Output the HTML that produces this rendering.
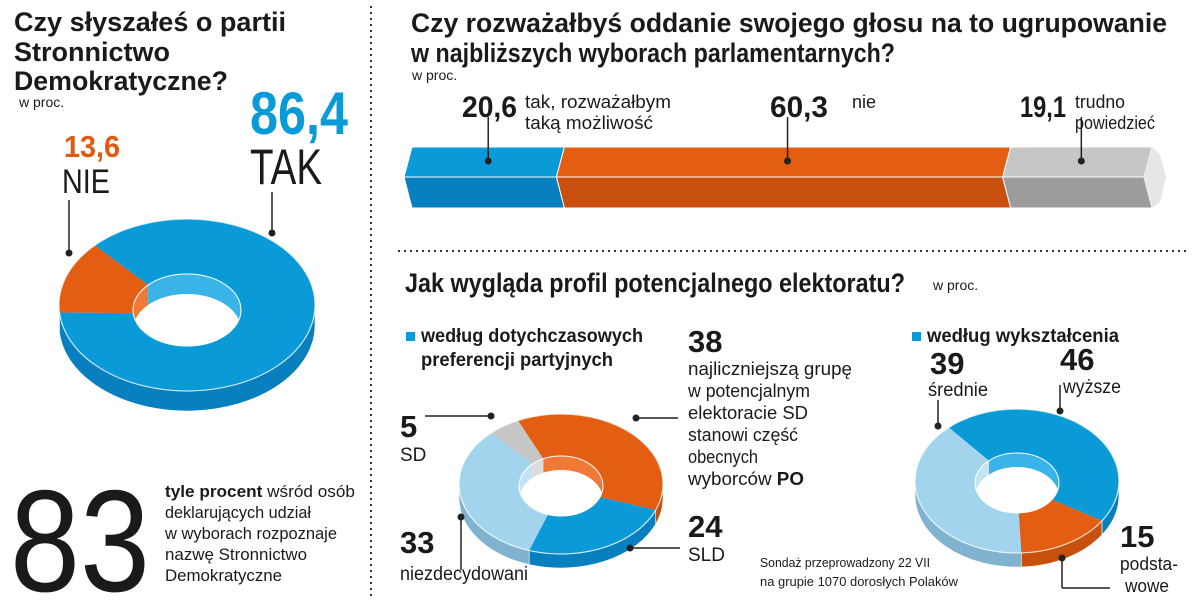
<!DOCTYPE html>
<html><head><meta charset="utf-8">
<style>
body{margin:0;background:#fff;}
svg{display:block;}
text{font-family:"Liberation Sans Narrow","Liberation Sans",sans-serif;fill:#1a1a1a;}
.b{font-weight:bold;}
</style></head>
<body>
<svg id="chart" width="1200" height="602" viewBox="0 0 1200 602">
<line x1="371" y1="6" x2="371" y2="600" stroke="#333" stroke-width="2" stroke-dasharray="2,4"/>
<line x1="398" y1="251" x2="1190" y2="251" stroke="#333" stroke-width="2" stroke-dasharray="2,4"/>

<g>
<text x="14" y="31" font-size="27" class="b" textLength="272" lengthAdjust="spacingAndGlyphs">Czy słyszałeś o partii</text>
<text x="14" y="61" font-size="27" class="b" textLength="156" lengthAdjust="spacingAndGlyphs">Stronnictwo</text>
<text x="14" y="90" font-size="27" class="b" textLength="214" lengthAdjust="spacingAndGlyphs">Demokratyczne?</text>
</g>
<text x="19" y="107" font-size="14">w proc.</text>
<text x="64" y="157" font-size="31" class="b" style="fill:#e05a12" textLength="56" lengthAdjust="spacingAndGlyphs">13,6</text>
<text x="62" y="193" font-size="34" textLength="48" lengthAdjust="spacingAndGlyphs">NIE</text>
<text x="250" y="134" font-size="60" class="b" style="fill:#0a9ad8" textLength="98" lengthAdjust="spacingAndGlyphs">86,4</text>
<text x="250" y="184" font-size="50" textLength="72" lengthAdjust="spacingAndGlyphs">TAK</text>
<line x1="69" y1="200" x2="69" y2="252" stroke="#222" stroke-width="1.5"/><circle cx="69" cy="253" r="3.5" fill="#222"/>
<line x1="272" y1="192" x2="272" y2="232" stroke="#222" stroke-width="1.5"/>

<g id="donut1"></g>
<circle cx="272" cy="233" r="3.5" fill="#222"/>

<text x="10" y="591" font-size="145" textLength="140" lengthAdjust="spacingAndGlyphs">83</text>
<g font-size="17">
<text x="165" y="497" textLength="190" lengthAdjust="spacingAndGlyphs"><tspan class="b">tyle procent</tspan> wśród osób</text>
<text x="165" y="518" textLength="146" lengthAdjust="spacingAndGlyphs">deklarujących udział</text>
<text x="165" y="539" textLength="172" lengthAdjust="spacingAndGlyphs">w wyborach rozpoznaje</text>
<text x="165" y="560" textLength="142" lengthAdjust="spacingAndGlyphs">nazwę Stronnictwo</text>
<text x="165" y="581" textLength="117" lengthAdjust="spacingAndGlyphs">Demokratyczne</text>
</g>

<g>
<text x="411" y="32" font-size="27" class="b" textLength="756" lengthAdjust="spacingAndGlyphs">Czy rozważałbyś oddanie swojego głosu na to ugrupowanie</text>
<text x="411" y="62" font-size="27" class="b" textLength="484" lengthAdjust="spacingAndGlyphs">w najbliższych wyborach parlamentarnych?</text>
</g>
<text x="412" y="80" font-size="14">w proc.</text>
<g id="bar"></g>
<g>
<text x="462" y="117" font-size="30" class="b" textLength="55" lengthAdjust="spacingAndGlyphs">20,6</text>
<text x="525" y="108" font-size="18" textLength="146" lengthAdjust="spacingAndGlyphs">tak, rozważałbym</text>
<text x="525" y="129" font-size="18" textLength="128" lengthAdjust="spacingAndGlyphs">taką możliwość</text>
<text x="770" y="117" font-size="30" class="b" textLength="58" lengthAdjust="spacingAndGlyphs">60,3</text>
<text x="852" y="108" font-size="18">nie</text>
<text x="1020" y="117" font-size="30" class="b" textLength="46" lengthAdjust="spacingAndGlyphs">19,1</text>
<text x="1075" y="108" font-size="18" textLength="50" lengthAdjust="spacingAndGlyphs">trudno</text>
<text x="1075" y="129" font-size="18" textLength="80" lengthAdjust="spacingAndGlyphs">powiedzieć</text>
</g>

<text x="405" y="292" font-size="27" class="b" textLength="500" lengthAdjust="spacingAndGlyphs">Jak wygląda profil potencjalnego elektoratu?</text>
<text x="933" y="290" font-size="14">w proc.</text>
<rect x="406" y="332" width="9" height="9" fill="#0a9ad8"/>
<text x="421" y="342" font-size="19" class="b" textLength="222" lengthAdjust="spacingAndGlyphs">według dotychczasowych</text>
<text x="421" y="366" font-size="19" class="b" textLength="192" lengthAdjust="spacingAndGlyphs">preferencji partyjnych</text>
<rect x="912" y="332" width="9" height="9" fill="#0a9ad8"/>
<text x="927" y="342" font-size="19" class="b" textLength="192" lengthAdjust="spacingAndGlyphs">według wykształcenia</text>

<g id="donut2"></g>
<g id="donut3"></g>

<g>
<text x="688" y="352" font-size="31" class="b">38</text>
<g font-size="18">
<text x="688" y="375" textLength="164" lengthAdjust="spacingAndGlyphs">najliczniejszą grupę</text>
<text x="688" y="397" textLength="122" lengthAdjust="spacingAndGlyphs">w potencjalnym</text>
<text x="688" y="419" textLength="120" lengthAdjust="spacingAndGlyphs">elektoracie SD</text>
<text x="688" y="441" textLength="110" lengthAdjust="spacingAndGlyphs">stanowi część</text>
<text x="688" y="463" textLength="70" lengthAdjust="spacingAndGlyphs">obecnych</text>
<text x="688" y="485" textLength="116" lengthAdjust="spacingAndGlyphs">wyborców <tspan class="b">PO</tspan></text>
</g>
<text x="400" y="437" font-size="31" class="b">5</text>
<text x="400" y="461" font-size="19">SD</text>
<text x="400" y="553" font-size="31" class="b">33</text>
<text x="400" y="580" font-size="19" textLength="128" lengthAdjust="spacingAndGlyphs">niezdecydowani</text>
<text x="688" y="537" font-size="31" class="b">24</text>
<text x="688" y="561" font-size="19">SLD</text>
<line x1="425" y1="416" x2="490" y2="416" stroke="#222" stroke-width="1.5"/><circle cx="491" cy="416" r="3.5" fill="#222"/>
<line x1="636" y1="418" x2="678" y2="418" stroke="#222" stroke-width="1.5"/><circle cx="636" cy="418" r="3.5" fill="#222"/>
<line x1="461" y1="518" x2="461" y2="570" stroke="#222" stroke-width="1.5"/><circle cx="461" cy="517" r="3.5" fill="#222"/>
<line x1="630" y1="548" x2="680" y2="548" stroke="#222" stroke-width="1.5"/><circle cx="630" cy="548" r="3.5" fill="#222"/>
</g>
<g>
<text x="930" y="374" font-size="31" class="b">39</text>
<text x="928" y="396" font-size="19" textLength="60" lengthAdjust="spacingAndGlyphs">średnie</text>
<text x="1060" y="370" font-size="31" class="b">46</text>
<text x="1063" y="393" font-size="19" textLength="58" lengthAdjust="spacingAndGlyphs">wyższe</text>
<text x="1120" y="547" font-size="31" class="b">15</text>
<text x="1120" y="570" font-size="18" textLength="58" lengthAdjust="spacingAndGlyphs">podsta-</text>
<text x="1125" y="592" font-size="18" textLength="44" lengthAdjust="spacingAndGlyphs">wowe</text>
<line x1="938" y1="400" x2="938" y2="425" stroke="#222" stroke-width="1.5"/><circle cx="938" cy="426" r="3.5" fill="#222"/>
<line x1="1060" y1="385" x2="1060" y2="410" stroke="#222" stroke-width="1.5"/><circle cx="1060" cy="411" r="3.5" fill="#222"/>
<line x1="1062" y1="560" x2="1062" y2="588" stroke="#222" stroke-width="1.5"/><line x1="1062" y1="588" x2="1110" y2="588" stroke="#222" stroke-width="1.5"/><circle cx="1062" cy="558" r="3.5" fill="#222"/>
</g>
<g font-size="13">
<text x="760" y="567" textLength="170" lengthAdjust="spacingAndGlyphs">Sondaż przeprowadzony 22 VII</text>
<text x="760" y="586" textLength="198" lengthAdjust="spacingAndGlyphs">na grupie 1070 dorosłych Polaków</text>
</g>
</svg>
<script>
// ---- data ----
const awarenessLabels = ["NIE", "TAK"];
const awarenessValues = [13.6, 86.4];
const barLabels = ["tak", "nie", "trudno powiedzieć"];
const barValues = [20.6, 60.3, 19.1];
const partyLabels = ["PO", "SLD", "niezdecydowani", "SD"];
const partyValues = [38, 24, 33, 5];
const eduLabels = ["wyższe", "podstawowe", "średnie"];
const eduValues = [46, 15, 39];

const NS = "http://www.w3.org/2000/svg";
const C = {
  blue: ["#0a9ad8", "#0880bf", "#39b4e8"],
  orange: ["#e35d12", "#c84f0e", "#f07a35"],
  grey: ["#c6c6c6", "#9c9c9c", "#dcdcdc"],
  light: ["#a2d4ee", "#7fb3cf", "#c4e4f5"]
};
function mk(tag, attrs, parent) {
  const e = document.createElementNS(NS, tag);
  for (const k in attrs) e.setAttribute(k, attrs[k]);
  parent.appendChild(e);
  return e;
}
function rangesIntersect(a0, a1, lo, hi) {
  const out = [];
  for (const off of [-360, 0, 360]) {
    const s = Math.max(a0, lo + off), e = Math.min(a1, hi + off);
    if (e > s) out.push([s, e]);
  }
  return out;
}
let clipId = 0;
function drawDonut(g, cx, cy, rx, ry, irx, iry, hdy, depth, start, values, colors, names) {
  const total = values.reduce((a, b) => a + b, 0);
  const hy = cy + hdy;
  const P = (a, Rx, Ry, y0) => {
    const r = a * Math.PI / 180;
    return [cx + Rx * Math.sin(r), y0 - Ry * Math.cos(r)];
  };
  const slices = [];
  let a = start;
  values.forEach((v, i) => {
    const span = v / total * 360;
    slices.push([a, a + span, colors[i], names[i]]);
    a += span;
  });
  slices.forEach(([a0, a1, col, nm]) => {
    rangesIntersect(a0, a1, 90, 270).forEach(([b0, b1]) => {
      const p0 = P(b0, rx, ry, cy), p1 = P(b1, rx, ry, cy);
      const q0 = P(b0, rx, ry, cy + depth), q1 = P(b1, rx, ry, cy + depth);
      const large = (b1 - b0) > 180 ? 1 : 0;
      const s = mk("path", {d: `M${p0}A${rx},${ry} 0 ${large} 1 ${p1}L${q1}A${rx},${ry} 0 ${large} 0 ${q0}Z`, fill: col[1], stroke: "#fff", "stroke-width": 0.6}, g);
      
      
    });
  });
  slices.forEach(([a0, a1, col, nm]) => {
    const p0 = P(a0, rx, ry, cy), p1 = P(a1, rx, ry, cy);
    const i0 = P(a0, irx, iry, hy), i1 = P(a1, irx, iry, hy);
    const large = (a1 - a0) > 180 ? 1 : 0;
    const s = mk("path", {d: `M${p0}A${rx},${ry} 0 ${large} 1 ${p1}L${i1}A${irx},${iry} 0 ${large} 0 ${i0}Z`, fill: col[0]}, g);
    
    
  });
  const id = "hole" + (clipId++);
  const cp = mk("clipPath", {id: id}, g);
  mk("ellipse", {cx: cx, cy: hy, rx: irx, ry: iry}, cp);
  const hg = mk("g", {"clip-path": `url(#${id})`}, g);
  mk("ellipse", {cx: cx, cy: hy, rx: irx, ry: iry, fill: "#fff"}, hg);
  slices.forEach(([a0, a1, col, nm]) => {
    rangesIntersect(a0, a1, 270, 450).forEach(([b0, b1]) => {
      const p0 = P(b0, irx, iry, hy), p1 = P(b1, irx, iry, hy);
      const q0 = P(b0, irx, iry, hy + depth), q1 = P(b1, irx, iry, hy + depth);
      const large = (b1 - b0) > 180 ? 1 : 0;
      mk("path", {d: `M${p0}A${irx},${iry} 0 ${large} 1 ${p1}L${q1}A${irx},${iry} 0 ${large} 0 ${q0}Z`, fill: col[2]}, hg);
    });
  });
  mk("ellipse", {cx: cx, cy: hy + depth, rx: irx, ry: iry, fill: "#fff"}, hg);
  mk("ellipse", {cx: cx, cy: hy, rx: irx, ry: iry, fill: "none", stroke: "#fff", "stroke-width": 1}, g);
  mk("ellipse", {cx: cx, cy: cy, rx: rx, ry: ry, fill: "none", stroke: "#fff", "stroke-width": 1.2, opacity: 0.7}, g);
}

drawDonut(document.getElementById("donut1"), 187, 305, 128, 86, 54, 36, 5, 20, 265,
  awarenessValues, [C.orange, C.blue], awarenessLabels);
drawDonut(document.getElementById("donut2"), 561, 484, 102, 70, 42, 30, 2, 14, -25,
  partyValues, [C.orange, C.blue, C.light, C.grey], partyLabels);
drawDonut(document.getElementById("donut3"), 1017, 481, 102, 72, 42, 30, 2, 14, -42,
  eduValues, [C.blue, C.orange, C.light], eduLabels);

(function () {
  const g = document.getElementById("bar");
  const x0 = 412, W = 740, yT = 147, yM = 177, yB = 208, notch = 8;
  const total = barValues.reduce((a, b) => a + b, 0);
  const cols = [C.blue, C.orange, C.grey];
  const xs = (v) => x0 + v / total * W;
  let acc = 0;
  barValues.forEach((v, i) => {
    const a = xs(acc), b = xs(acc + v);
    const top = mk("polygon", {points: `${a},${yT} ${b},${yT} ${b - notch},${yM} ${a - notch},${yM}`, fill: cols[i][0], stroke: "#fff", "stroke-width": 1}, g);
    
    
    const fr = mk("polygon", {points: `${a - notch},${yM} ${b - notch},${yM} ${b},${yB} ${a},${yB}`, fill: cols[i][1], stroke: "#fff", "stroke-width": 1}, g);
    
    
    const cxm = (a + b) / 2;
    mk("line", {x1: cxm, y1: yT - 30, x2: cxm, y2: yT + 14, stroke: "#222", "stroke-width": 1.5}, g);
    mk("circle", {cx: cxm, cy: yT + 14, r: 3.5, fill: "#222"}, g);
    acc += v;
  });
  const e = xs(total);
  const cap = mk("polygon", {points: `${e},${yT} ${e + 8},${yT + 8} ${e + 14},${yM} ${e + 8},${yB - 6} ${e},${yB} ${e - notch},${yM}`, fill: "#e6e6e6"}, g);
  
  
})();
</script>
</body></html>
